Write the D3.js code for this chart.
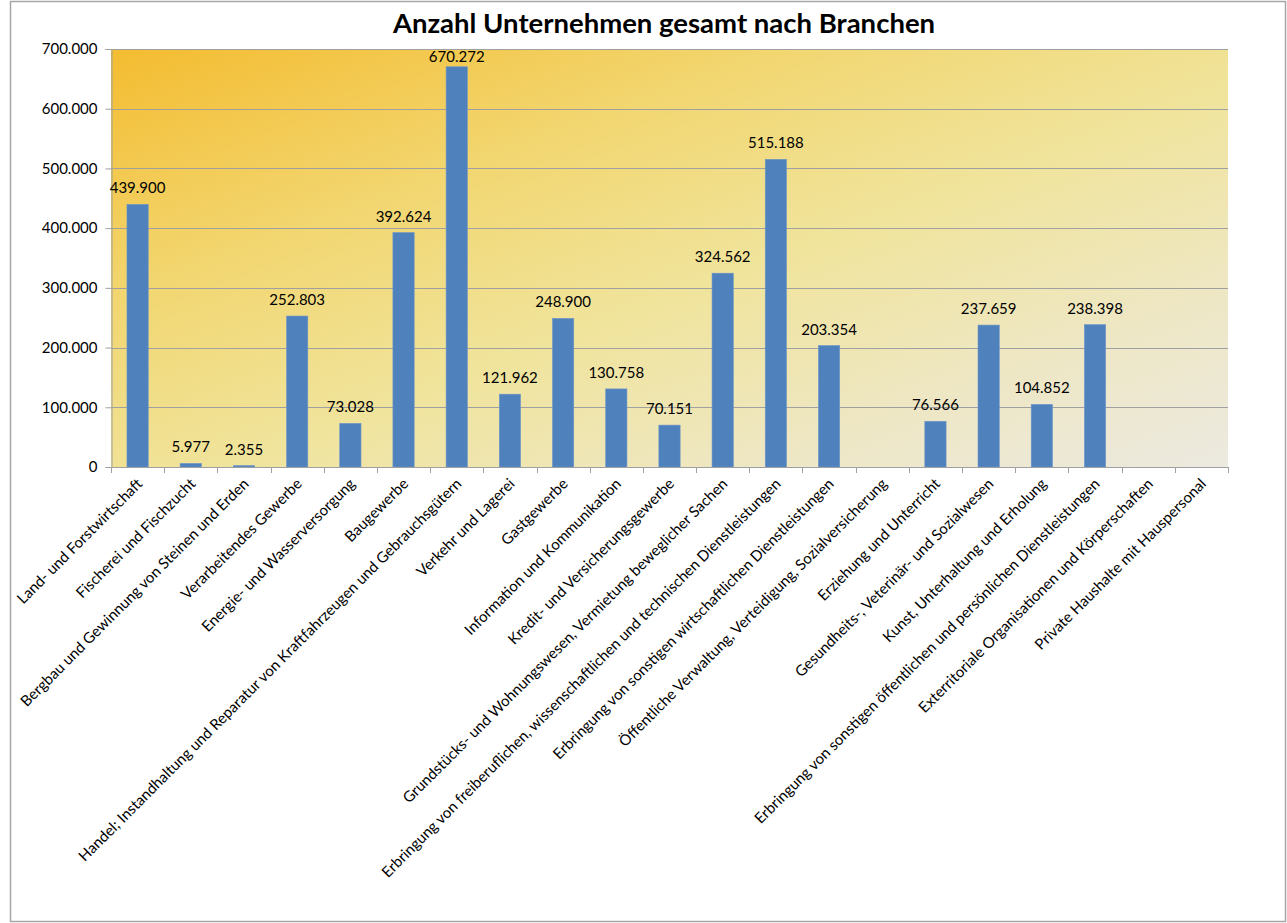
<!DOCTYPE html>
<html>
<head>
<meta charset="utf-8">
<script src="https://cdn.jsdelivr.net/npm/d3@7"></script>
<style>
  html, body { margin: 0; padding: 0; background: #fff; }
  svg { display: block; }
  text { font-family: Lato, "Open Sans", sans-serif; fill: #000; }
</style>
</head>
<body>
<svg id="chart" width="1287" height="923"></svg>
<script>
// Branchen (Wirtschaftszweige) in der Reihenfolge der Rubrikenachse
const categories = [
  "Land- und Forstwirtschaft",
  "Fischerei und Fischzucht",
  "Bergbau und Gewinnung von Steinen und Erden",
  "Verarbeitendes Gewerbe",
  "Energie- und Wasserversorgung",
  "Baugewerbe",
  "Handel; Instandhaltung und Reparatur von Kraftfahrzeugen und Gebrauchsgütern",
  "Verkehr und Lagerei",
  "Gastgewerbe",
  "Information und Kommunikation",
  "Kredit- und Versicherungsgewerbe",
  "Grundstücks- und Wohnungswesen, Vermietung beweglicher Sachen",
  "Erbringung von freiberuflichen, wissenschaftlichen und technischen Dienstleistungen",
  "Erbringung von sonstigen wirtschaftlichen Dienstleistungen",
  "Öffentliche Verwaltung, Verteidigung, Sozialversicherung",
  "Erziehung und Unterricht",
  "Gesundheits-, Veterinär- und Sozialwesen",
  "Kunst, Unterhaltung und Erholung",
  "Erbringung von sonstigen öffentlichen und persönlichen Dienstleistungen",
  "Exterritoriale Organisationen und Körperschaften",
  "Private Haushalte mit Hauspersonal"
];

// Anzahl Unternehmen je Branche (null = kein Wert)
const companies = [
  439900, 5977, 2355, 252803, 73028, 392624, 670272, 121962, 248900, 130758,
  70151, 324562, 515188, 203354, null, 76566, 237659, 104852, 238398, null, null
];

const yTicks = [0, 100000, 200000, 300000, 400000, 500000, 600000, 700000];
const title = "Anzahl Unternehmen gesamt nach Branchen";

const svg = d3.select("#chart");
const plot = { left: 111, right: 1228, top: 49, bottom: 467 };
const fontSize = "15px";

// Tausenderpunkt wie im deutschen Zahlenformat
const de = d3.formatLocale({ decimal: ",", thousands: ".", grouping: [3], currency: ["", " €"] });
const fmt = de.format(",d");

// Diagramm-Rahmen
svg.append("rect")
  .attr("x", 10.5).attr("y", 1.5)
  .attr("width", 1275).attr("height", 920)
  .attr("fill", "#fff").attr("stroke", "#a6a6a6").attr("stroke-width", 1.5);

// Hintergrundverlauf der Zeichnungsfläche
const defs = svg.append("defs");
const grad = defs.append("linearGradient")
  .attr("id", "plotFill")
  .attr("x1", 0).attr("y1", 0).attr("x2", 1).attr("y2", 1);
[[0, "#f4bc30"], [0.3, "#f2d670"], [0.55, "#f0e49c"], [0.8, "#eee7c6"], [1, "#ece9e0"]]
  .forEach(([o, c]) => grad.append("stop").attr("offset", o).attr("stop-color", c));

svg.append("rect")
  .attr("x", plot.left).attr("y", plot.top)
  .attr("width", plot.right - plot.left).attr("height", plot.bottom - plot.top)
  .attr("fill", "url(#plotFill)");

const x = d3.scaleBand()
  .domain(categories)
  .range([plot.left, plot.right])
  .paddingInner(0.6).paddingOuter(0.3);

const y = d3.scaleLinear()
  .domain([0, 700000])
  .range([plot.bottom, plot.top]);

// Gitternetzlinien
svg.append("g")
  .selectAll("line")
  .data(yTicks.filter(d => d > 0))
  .join("line")
  .attr("x1", plot.left).attr("x2", plot.right)
  .attr("y1", d => Math.round(y(d)) + 0.5).attr("y2", d => Math.round(y(d)) + 0.5)
  .attr("stroke", "#a0a0a0").attr("stroke-width", 1);

// Größenachse
const yAxis = svg.append("g")
  .attr("transform", `translate(${plot.left + 0.5},0)`)
  .call(d3.axisLeft(y).tickValues(yTicks).tickFormat(fmt).tickSize(6).tickPadding(8));
yAxis.select(".domain").attr("stroke", "#a0a0a0");
yAxis.selectAll(".tick line").attr("stroke", "#a0a0a0");
yAxis.selectAll(".tick text")
  .style("font-size", fontSize).style("font-family", "Lato, sans-serif").attr("fill", "#000");

// Balken
svg.append("g")
  .selectAll("rect")
  .data(categories.map((c, i) => ({ c, v: companies[i] })).filter(d => d.v != null))
  .join("rect")
  .attr("x", d => x(d.c))
  .attr("y", d => y(d.v))
  .attr("width", x.bandwidth())
  .attr("height", d => y(0) - y(d.v))
  .attr("fill", "#4f81bd")
  .attr("stroke", "#6f96c8").attr("stroke-width", 0.6);

// Rubrikenachse mit Teilstrichen zwischen den Kategorien
const step = (plot.right - plot.left) / categories.length;
const xAxis = svg.append("g");
xAxis.append("line")
  .attr("x1", plot.left).attr("x2", plot.right)
  .attr("y1", plot.bottom + 0.5).attr("y2", plot.bottom + 0.5)
  .attr("stroke", "#a0a0a0");
xAxis.selectAll("line.tick")
  .data(d3.range(categories.length + 1))
  .join("line").attr("class", "tick")
  .attr("x1", i => Math.round(plot.left + i * step) + 0.5)
  .attr("x2", i => Math.round(plot.left + i * step) + 0.5)
  .attr("y1", plot.bottom).attr("y2", plot.bottom + 6)
  .attr("stroke", "#a0a0a0");

// Beschriftungen der Rubrikenachse, um 45° gedreht
xAxis.selectAll("text")
  .data(categories)
  .join("text")
  .attr("transform", d => `translate(${x(d) + x.bandwidth() / 2 + 2},${plot.bottom + 14}) rotate(-45)`)
  .attr("text-anchor", "end")
  .attr("dy", "0.35em")
  .style("font-size", fontSize)
  .text(d => d);

// Datenbeschriftungen
svg.append("g")
  .selectAll("text")
  .data(categories.map((c, i) => ({ c, v: companies[i] })).filter(d => d.v != null))
  .join("text")
  .attr("x", d => x(d.c) + x.bandwidth() / 2)
  .attr("y", d => Math.max(y(d.v) - 11, plot.top + 13))
  .attr("text-anchor", "middle")
  .style("font-size", fontSize)
  .text(d => fmt(d.v));

// Titel
svg.append("text")
  .attr("x", 664).attr("y", 33)
  .attr("text-anchor", "middle")
  .style("font-size", "27.5px").style("font-weight", "bold")
  .text(title);
</script>
</body>
</html>
